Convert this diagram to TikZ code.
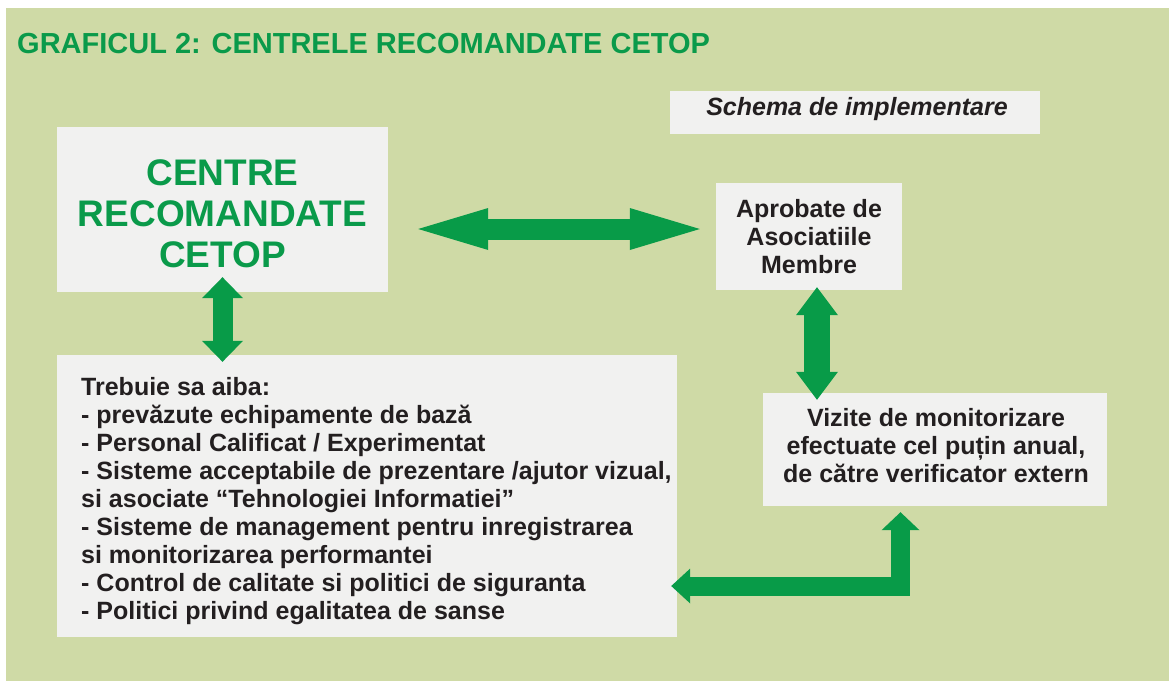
\documentclass[tikz,border=0pt]{standalone}
\usepackage{fontspec}
\setmainfont{Liberation Sans}
\usetikzlibrary{arrows.meta}
\definecolor{bg}{HTML}{CFDAA6}
\definecolor{boxc}{HTML}{F1F1F0}
\definecolor{arr}{HTML}{089B48}
\definecolor{ttl}{HTML}{0A9A4A}
\definecolor{txt}{HTML}{231F20}
\begin{document}
\begin{tikzpicture}[x=1pt,y=-1pt,
  box/.style={fill=boxc, draw=none, inner sep=0pt, minimum width=#1},
  btxt/.style={font=\bfseries\fontsize{25pt}{28pt}\selectfont, text=txt, inner sep=0pt},
  blk/.style={draw=arr, line width=#1, line cap=butt, line join=miter},
  htip/.tip={Triangle[length=70pt,width=42pt,line width=0pt]},
  vtipa/.tip={Triangle[length=21pt,width=41pt,line width=0pt]},
  vtipb/.tip={Triangle[length=28pt,width=42pt,line width=0pt]},
  etipa/.tip={Triangle[length=18pt,width=38pt,line width=0pt]},
  etipb/.tip={Triangle[length=19pt,width=35pt,line width=0pt]}
]
\useasboundingbox (0,0) rectangle (1169,681);
\fill[bg] (6,8) rectangle (1169,681);

% title
\node[anchor=base west, font=\bfseries\fontsize{29pt}{32pt}\selectfont, text=ttl, inner sep=0pt] (title) at (17,53) {GRAFICUL 2: CENTRELE RECOMANDATE CETOP};

% boxes
\node[box=331pt, minimum height=165pt] (cent) at (222.5,209.5) {};
\node[box=370pt, minimum height=43pt] (schema) at (855,112.5) {};
\node[box=186pt, minimum height=107pt] (aprob) at (809,236.5) {};
\node[box=620pt, minimum height=282pt] (req) at (367,496) {};
\node[box=344pt, minimum height=113pt] (viz) at (935,449.5) {};

% texts
\node[font=\bfseries\fontsize{37pt}{41pt}\selectfont, text=ttl, align=center, inner sep=0pt] (centtxt) at (222.5,213.5) {CENTRE\\RECOMANDATE\\CETOP};
\node[anchor=base, font=\bfseries\itshape\fontsize{25pt}{28pt}\selectfont, text=txt, inner sep=0pt] (schtxt) at (857,115) {Schema de implementare};
\node[btxt, align=center] (aprtxt) at (809,237) {Aprobate de\\Asociatiile\\Membre};
\node[btxt, align=center] (viztxt) at (936,446) {Vizite de monitorizare\\efectuate cel puțin anual,\\de către verificator extern};
\node[btxt, align=left, anchor=north west] (reqtxt) at (81,377) {Trebuie sa aiba:\\
- prevăzute echipamente de bază\\
- Personal Calificat / Experimentat\\
- Sisteme acceptabile de prezentare /ajutor vizual,\\
si asociate “Tehnologiei Informatiei”\\
- Sisteme de management pentru inregistrarea\\
si monitorizarea performantei\\
- Control de calitate si politici de siguranta\\
- Politici privind egalitatea de sanse};

% arrows
\draw[blk=21pt, htip-htip] ([xshift=30pt]cent.east |- 0,229) -- ([xshift=-16pt]aprob.west |- 0,229);

\coordinate (v1a) at ([yshift=15pt]cent.south);
\coordinate (v1b) at ([yshift=-7pt]cent.south |- req.north);
\draw[blk=20pt, vtipa-vtipa] (v1a) -- (v1b);

\coordinate (v2a) at ([xshift=8pt,yshift=3pt]aprob.south);
\coordinate (v2b) at ([yshift=-7pt]v2a |- viz.north);
\draw[blk=26pt, vtipb-vtipb] (v2a) -- (v2b);

\coordinate (e1) at ([xshift=-34.5pt,yshift=-6pt]viz.south);
\coordinate (e2) at ([xshift=-6pt,yshift=-90pt]req.east);
\draw[blk=19pt, etipa-etipb] (e1) |- (e2);
\end{tikzpicture}
\end{document}
